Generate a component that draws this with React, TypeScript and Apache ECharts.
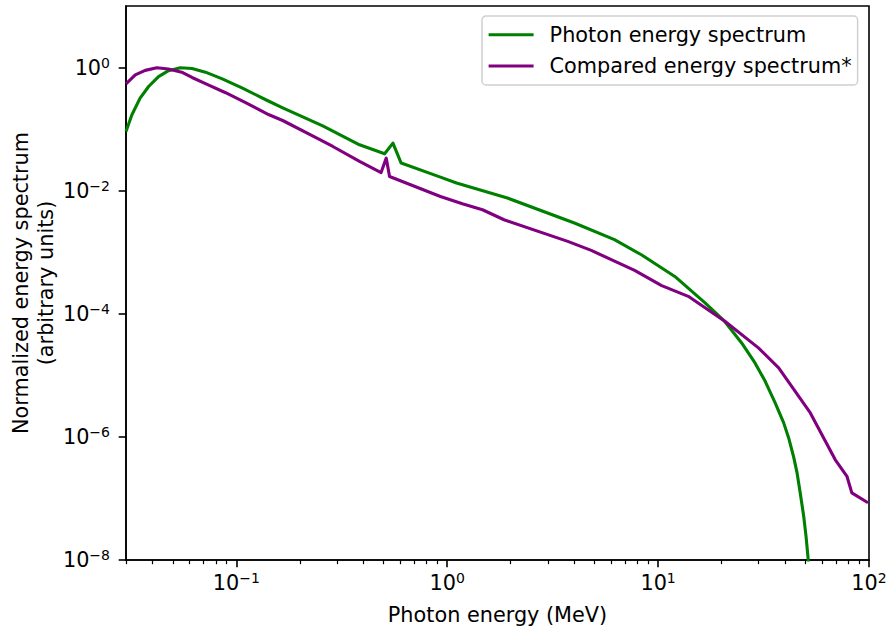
import React, { useEffect, useRef } from 'react';
import * as echarts from 'echarts';

// ---- data ----
const seriesNames = ['Photon energy spectrum', 'Compared energy spectrum*'];

// Photon energy spectrum (MeV, normalized)
const photonEnergy = [
  0.03, 0.032, 0.035, 0.0384, 0.0428, 0.0477, 0.0543, 0.0617, 0.0714, 0.0858,
  0.107, 0.138, 0.166, 0.257, 0.384, 0.505, 0.553, 0.605, 0.929, 1.107,
  1.93, 4.01, 6.21, 8.33, 12.0, 16.7, 20.7, 24.9, 28.8, 32.2,
  35.9, 39.4, 41.6, 44.0, 45.6, 47.2, 49.0, 50.3, 51.4, 53.0,
];
const photonSpectrum = [
  0.0914, 0.171, 0.319, 0.492, 0.714, 0.89, 0.995, 0.965, 0.842, 0.656,
  0.463, 0.3, 0.222, 0.113, 0.0556, 0.0397, 0.0593, 0.0281, 0.0166, 0.0133,
  0.0076, 0.00298, 0.0016, 0.00091, 4.04e-4, 1.5e-4, 7.5e-5, 3.36e-5, 1.59e-5, 8.0e-6,
  3.56e-6, 1.69e-6, 9.6e-7, 4.6e-7, 2.6e-7, 1.23e-7, 5.2e-8, 2.4e-8, 1.09e-8, 2e-9,
];

// Compared energy spectrum* (MeV, normalized)
const comparedEnergy = [
  0.03, 0.0332, 0.037, 0.042, 0.0477, 0.0557, 0.0617, 0.0714, 0.089, 0.1107,
  0.143, 0.166, 0.23, 0.287, 0.384, 0.486, 0.514, 0.533, 0.929, 1.18,
  1.47, 1.86, 3.73, 4.82, 7.74, 10.4, 13.9, 20.8, 29.9, 37.3,
  52.7, 69.1, 78.6, 82.9, 98.9,
];
const comparedSpectrum = [
  0.545, 0.76, 0.9, 0.99, 0.95, 0.83, 0.69, 0.55, 0.39, 0.27,
  0.171, 0.138, 0.0779, 0.0522, 0.0298, 0.0197, 0.0338, 0.017, 0.00805, 0.00613,
  0.0049, 0.00337, 0.0015, 0.00107, 5.07e-4, 2.86e-4, 1.92e-4, 7.5e-5, 2.79e-5, 1.32e-5,
  2.45e-6, 4.28e-7, 2.29e-7, 1.23e-7, 8.5e-8,
];

const xMajorTicks = [0.1, 1, 10, 100];
const xMinorTicks = [
  0.03, 0.04, 0.05, 0.06, 0.07, 0.08, 0.09,
  0.2, 0.3, 0.4, 0.5, 0.6, 0.7, 0.8, 0.9,
  2, 3, 4, 5, 6, 7, 8, 9,
  20, 30, 40, 50, 60, 70, 80, 90,
];
const yMajorTicks = [1e-8, 1e-6, 1e-4, 1e-2, 1];

const xTitle = 'Photon energy (MeV)';
const yTitle = 'Normalized energy spectrum\n(arbitrary units)';

const FONT = 'DejaVu Sans';
const FS = 20.8;

const powLabel = (v: number) => {
  const e = Math.round(Math.log10(v));
  const s = e < 0 ? '\u2212' + Math.abs(e) : String(e);
  return `{b|10}{s|${s}}`;
};

const rich = {
  b: { fontSize: FS, lineHeight: 24, fontFamily: FONT, color: '#000' },
  s: { fontSize: 14, lineHeight: 14, verticalAlign: 'top', fontFamily: FONT, color: '#000' },
};

const axisLineStyle = { color: '#000', width: 1.6 };

export default function App() {
  const ref = useRef<HTMLDivElement>(null);

  useEffect(() => {
    document.body.style.margin = '0';
    if (!ref.current) return;
    const chart = echarts.init(ref.current, undefined, { renderer: 'svg' });

    const option: any = {
      animation: false,
      backgroundColor: '#fff',
      grid: {
        left: 126,
        top: 6,
        width: 743,
        height: 554,
        show: true,
        borderColor: '#000',
        borderWidth: 1.6,
        backgroundColor: 'transparent',
        containLabel: false,
        outerBoundsMode: 'none',
      },
      legend: {
        data: seriesNames.map((n) => ({ name: n, icon: 'rect' })),
        orient: 'vertical',
        left: 482,
        top: 16,
        itemWidth: 45,
        itemHeight: 3,
        itemGap: 10.3,
        padding: [8.3, 6, 8.3, 6.6],
        backgroundColor: 'rgba(255,255,255,0.8)',
        borderColor: '#d0d0d0',
        borderWidth: 1.5,
        borderRadius: 4,
        itemStyle: { borderWidth: 0 },
        textStyle: {
          fontSize: FS,
          lineHeight: 19,
          color: '#000',
          fontFamily: FONT,
          padding: [0, 0, 0, 11],
        },
      },
      xAxis: [
        {
          type: 'log',
          logBase: 10,
          min: 0.03,
          max: 100,
          position: 'bottom',
          axisLine: { show: true, lineStyle: axisLineStyle },
          axisTick: { show: true, customValues: xMajorTicks, length: 7.3, lineStyle: axisLineStyle },
          minorTick: { show: false },
          axisLabel: { customValues: xMajorTicks, formatter: powLabel, rich, margin: 11 },
          splitLine: { show: false },
          name: xTitle,
          nameLocation: 'middle',
          nameGap: 42,
          nameMoveOverlap: false,
          nameTextStyle: { fontSize: FS, lineHeight: 25, fontFamily: FONT, color: '#000' },
        },
        {
          type: 'log',
          logBase: 10,
          min: 0.03,
          max: 100,
          position: 'bottom',
          gridIndex: 0,
          axisLine: { show: false },
          axisTick: { show: true, customValues: xMinorTicks, length: 4.2, lineStyle: { color: '#000', width: 1.2 } },
          minorTick: { show: false },
          axisLabel: { show: false },
          splitLine: { show: false },
        },
      ],
      yAxis: {
        type: 'log',
        logBase: 10,
        min: 1e-8,
        max: 10,
        axisLine: { show: true, lineStyle: axisLineStyle },
        axisTick: { show: true, customValues: yMajorTicks, length: 7.3, lineStyle: axisLineStyle },
        minorTick: { show: false },
        axisLabel: { customValues: yMajorTicks, formatter: powLabel, rich, margin: 16 },
        splitLine: { show: false },
        name: yTitle,
        nameLocation: 'middle',
        nameGap: 68,
        nameMoveOverlap: false,
        nameTextStyle: { fontSize: FS, lineHeight: 25, fontFamily: FONT, color: '#000', align: 'center' },
      },
      series: [
        {
          type: 'line',
          name: seriesNames[0],
          xAxisIndex: 0,
          yAxisIndex: 0,
          data: photonEnergy.map((x, i) => [x, photonSpectrum[i]]),
          symbol: 'none',
          clip: true,
          color: '#008000',
          itemStyle: { color: '#008000' },
          lineStyle: { color: '#008000', width: 3.1, join: 'round' },
        },
        {
          type: 'line',
          name: seriesNames[1],
          xAxisIndex: 0,
          yAxisIndex: 0,
          data: comparedEnergy.map((x, i) => [x, comparedSpectrum[i]]),
          symbol: 'none',
          clip: true,
          color: '#800080',
          itemStyle: { color: '#800080' },
          lineStyle: { color: '#800080', width: 3.1, join: 'round' },
        },
      ],
    };

    chart.setOption(option);
    return () => chart.dispose();
  }, []);

  return <div ref={ref} style={{ width: 888, height: 627 }} />;
}
